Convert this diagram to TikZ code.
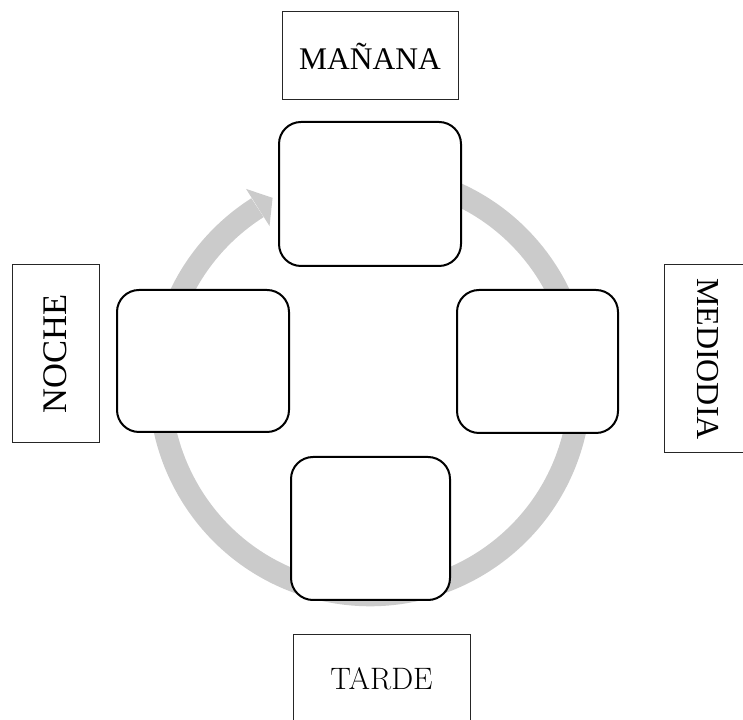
\documentclass[tikz,border=0pt]{standalone}
\usepackage{fontspec}
\newfontfamily\tms{Liberation Serif}
\definecolor{arcgray}{HTML}{CBCBCB}
\begin{document}
\begin{tikzpicture}[x=1pt,y=1pt,
  stage/.style={draw=black,line width=2pt,fill=white,rounded corners=22pt,inner sep=0pt},
  lab/.style={draw=black!85,line width=1pt,fill=white,inner sep=0pt,align=center}]
\useasboundingbox (0,0) rectangle (743,719);
\clip (0,0) rectangle (743,719);
\coordinate (C) at (370,334);
% circular arrow
\draw[arcgray,line width=22.5pt] ([shift={(75:210)}]C) arc (75:-237.6:210);
\fill[arcgray] ([shift={(122.3:232)}]C) -- ([shift={(117.5:211)}]C) -- ([shift={(122.3:188)}]C) -- cycle;
% stage boxes
\node[stage,minimum width=182pt,minimum height=144pt] (m) at (370,525) {};
\node[stage,minimum width=161pt,minimum height=143pt] (md) at (537.5,357.5) {};
\node[stage,minimum width=159pt,minimum height=143pt] (t) at (370.5,190.5) {};
\node[stage,minimum width=172pt,minimum height=142pt] (n) at (203,358) {};
% labels
\node[lab,minimum width=176pt,minimum height=88pt,font=\tms\fontsize{31.5}{36}\selectfont] (lm) at (370,663) {MAÑANA};
\node[lab,rotate=90,minimum width=178pt,minimum height=87pt,font=\tms\fontsize{34.5}{38}\selectfont] (ln) at (55.5,365) {NOCHE};
\node[lab,rotate=-90,minimum width=188pt,minimum height=88pt,font=\tms\fontsize{32}{37}\selectfont] (lmd) at (708,360) {MEDIODIA};
\node[lab,minimum width=177pt,minimum height=88pt,font=\fontsize{31}{36}\selectfont] (lt) at (381.5,40) {TARDE};
\end{tikzpicture}
\end{document}
